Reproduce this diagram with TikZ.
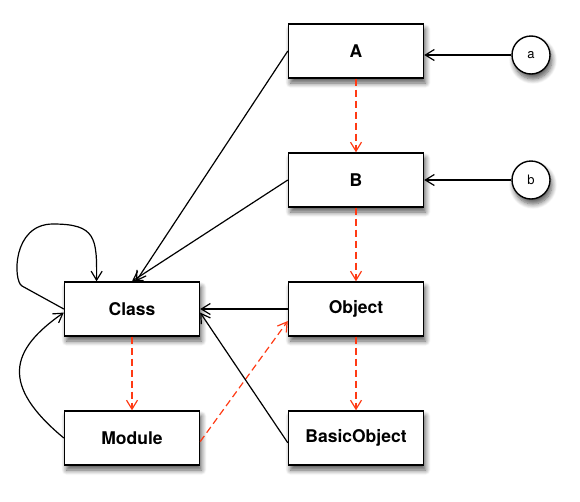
\documentclass[tikz,border=0pt]{standalone}
\usepackage{fontspec}
\setmainfont{TeX Gyre Heros}
\usepackage{xcolor}
\usepackage{tikz}
\usetikzlibrary{arrows.meta, shadows.blur}
\definecolor{deporange}{HTML}{FF3A14}
\begin{document}
\begin{tikzpicture}[x=1pt, y=-1pt,
  klass/.style={draw, line width=1.4pt, fill=white, minimum width=135pt, minimum height=54pt,
    inner sep=0pt, font=\fontsize{17.5}{20}\selectfont\bfseries,
    blur shadow={shadow xshift=2pt, shadow yshift=-5pt, shadow blur radius=5pt,
      shadow blur steps=8, shadow opacity=65}},
  inst/.style={draw, line width=1.4pt, circle, fill=white, minimum size=38pt, inner sep=0pt,
    font=\fontsize{13}{15}\selectfont,
    blur shadow={shadow xshift=2pt, shadow yshift=-5pt, shadow blur radius=5pt,
      shadow blur steps=8, shadow opacity=65}},
  edge/.style={line width=1.2pt, -{Straight Barb[length=9pt,width=11pt]}},
  super/.style={line width=1.2pt, deporange, dash pattern=on 7pt off 4pt,
    -{Straight Barb[length=9pt,width=11pt]}}]
\useasboundingbox (0,0) rectangle (580,501);
\node[klass] (A) at (356,51) {A};
\node[klass] (B) at (356,180) {B};
\node[klass] (Object) at (356,309) {Object};
\node[klass] (BasicObject) at (356,438) {BasicObject};
\node[klass] (Class) at (132,309) {Class};
\node[klass] (Module) at (132,438) {Module};
\node[inst] (a) at (531,55) {a};
\node[inst] (b) at (531,180) {b};
\draw[edge] (a.west) -- (a.west -| A.east);
\draw[edge] (b) -- (B);
\draw[super] (A) -- (B);
\draw[super] (B) -- (Object);
\draw[super] (Object) -- (BasicObject);
\draw[super] (Class) -- (Module);
\draw[super] (Module.357) -- (Object.190);
\draw[edge] (A.west) -- ([xshift=4pt]Class.north);
\draw[edge] (B.west) -- (Class.north);
\draw[edge] (Object) -- (Class);
\draw[edge] (BasicObject.184) -- (Class.357);
\draw[edge] (Class.west) -- (22,286) .. controls (13,281) and (12,224) .. (53,224)
  .. controls (96,224) and (97,238) .. (Class.142);
\draw[edge] (Module.west) .. controls (0,385) and (10,350) .. (Class.183);
\end{tikzpicture}
\end{document}
